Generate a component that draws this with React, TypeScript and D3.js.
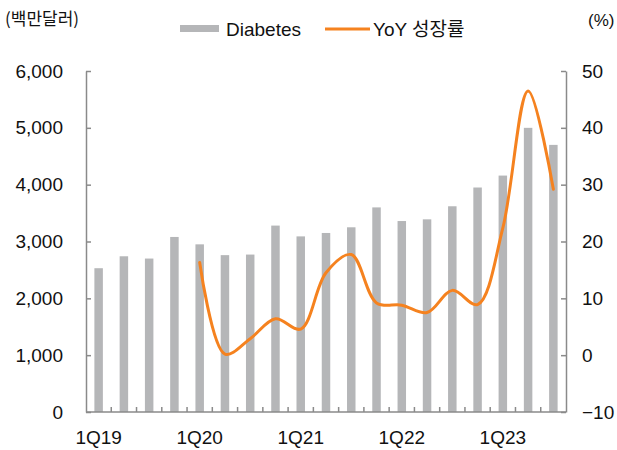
import React, { useRef, useEffect } from 'react';
import * as d3 from 'd3';

const quarters = [
  '1Q19', '2Q19', '3Q19', '4Q19',
  '1Q20', '2Q20', '3Q20', '4Q20',
  '1Q21', '2Q21', '3Q21', '4Q21',
  '1Q22', '2Q22', '3Q22', '4Q22',
  '1Q23', '2Q23', '3Q23',
];
const diabetes = [
  2530, 2740, 2700, 3080,
  2950, 2760, 2770, 3280,
  3090, 3150, 3250, 3600,
  3360, 3390, 3620, 3950,
  4160, 5000, 4700,
];
const yoyGrowth: (number | null)[] = [
  null, null, null, null,
  16.3, 0.2, 2.9, 6.4,
  4.6, 14.5, 17.7, 9.2,
  8.8, 7.5, 11.4, 8.9,
  22.4, 46.5, 29.2,
];
const leftTicks = [0, 1000, 2000, 3000, 4000, 5000, 6000];
const rightTicks = [-10, 0, 10, 20, 30, 40, 50];

const W = 617;
const H = 450;
const AXIS = '#8a8a8a';
const BAR = '#b5b6b8';
const ORANGE = '#f5821f';
const NUM_FONT = '"Liberation Sans", Arial, sans-serif';
const KR_FONT = '"Liberation Sans", "Noto Sans CJK KR", sans-serif';

const App = () => {
  const svgRef = useRef<SVGSVGElement | null>(null);

  useEffect(() => {
    if (!svgRef.current) return;
    const svg = d3.select(svgRef.current);
    svg.selectAll('*').remove();

    const left = 86;
    const right = 566;
    const top = 71;
    const bottom = 412;

    const x = d3.scaleBand<string>()
      .domain(quarters)
      .range([left, right])
      .paddingInner(0.664)
      .paddingOuter(0.332);
    const step = x.step();

    const yL = d3.scaleLinear().domain([0, 6000]).range([bottom, top]);
    const yR = d3.scaleLinear().domain([-10, 50]).range([bottom, top]);

    // bars
    svg.append('g')
      .selectAll('rect')
      .data(diabetes)
      .enter()
      .append('rect')
      .attr('x', (_d, i) => x(quarters[i]) as number)
      .attr('y', d => yL(d))
      .attr('width', x.bandwidth())
      .attr('height', d => bottom - yL(d))
      .attr('fill', BAR);

    // left axis
    const gl = svg.append('g')
      .attr('transform', `translate(${left},0)`)
      .call(
        d3.axisLeft(yL)
          .tickValues(leftTicks)
          .tickSizeInner(-5)
          .tickSizeOuter(0)
          .tickPadding(23)
          .tickFormat(d3.format(','))
      );

    // right axis
    const gr = svg.append('g')
      .attr('transform', `translate(${right},0)`)
      .call(
        d3.axisRight(yR)
          .tickValues(rightTicks)
          .tickSizeInner(-5)
          .tickSizeOuter(0)
          .tickPadding(16)
          .tickFormat(d => (+d < 0 ? '\u2212' + Math.abs(+d) : String(d)))
      );

    [gl, gr].forEach(g => {
      g.select('.domain').attr('stroke', AXIS).attr('stroke-width', 1.5);
      g.selectAll('.tick line').attr('stroke', AXIS).attr('stroke-width', 1.5);
      g.selectAll('.tick text')
        .attr('fill', '#111')
        .attr('font-size', 19)
        .attr('font-family', NUM_FONT);
    });

    // bottom axis
    const gb = svg.append('g');
    gb.append('line')
      .attr('x1', left).attr('x2', right)
      .attr('y1', bottom).attr('y2', bottom)
      .attr('stroke', AXIS).attr('stroke-width', 1.5);
    gb.selectAll('line.tk')
      .data(quarters.slice(1))
      .enter()
      .append('line')
      .attr('class', 'tk')
      .attr('x1', d => (x(d) as number) - (step - x.bandwidth()) / 2)
      .attr('x2', d => (x(d) as number) - (step - x.bandwidth()) / 2)
      .attr('y1', bottom)
      .attr('y2', bottom - 5)
      .attr('stroke', AXIS)
      .attr('stroke-width', 1.5);
    gb.selectAll('text')
      .data(quarters.filter(q => q.startsWith('1Q')))
      .enter()
      .append('text')
      .attr('x', d => (x(d) as number) + x.bandwidth() / 2)
      .attr('y', 444)
      .attr('text-anchor', 'middle')
      .attr('font-size', 19)
      .attr('font-family', NUM_FONT)
      .attr('fill', '#111')
      .text(d => d);

    // YoY line
    const line = d3.line<number | null>()
      .defined(d => d != null)
      .x((_d, i) => (x(quarters[i]) as number) + x.bandwidth() / 2)
      .y(d => yR(d as number))
      .curve(d3.curveCatmullRom.alpha(0.5));
    svg.append('path')
      .datum(yoyGrowth)
      .attr('d', line)
      .attr('fill', 'none')
      .attr('stroke', ORANGE)
      .attr('stroke-width', 3)
      .attr('stroke-linecap', 'round');

    // unit labels
    svg.append('text')
      .attr('x', 5).attr('y', 25)
      .attr('font-size', 17)
      .attr('font-family', '"Noto Sans CJK KR", sans-serif')
      .attr('fill', '#111')
      .text('(백만달러)');
    svg.append('text')
      .attr('x', 588).attr('y', 26)
      .attr('font-size', 17)
      .attr('font-family', NUM_FONT)
      .attr('fill', '#111')
      .text('(%)');

    // legend
    svg.append('rect')
      .attr('x', 180).attr('y', 25)
      .attr('width', 39).attr('height', 7)
      .attr('fill', BAR);
    svg.append('text')
      .attr('x', 226).attr('y', 36)
      .attr('font-size', 19)
      .attr('font-family', NUM_FONT)
      .attr('fill', '#111')
      .text('Diabetes');
    svg.append('line')
      .attr('x1', 325).attr('x2', 370)
      .attr('y1', 29).attr('y2', 29)
      .attr('stroke', ORANGE)
      .attr('stroke-width', 3);
    svg.append('text')
      .attr('x', 373).attr('y', 36)
      .attr('font-size', 19)
      .attr('font-family', KR_FONT)
      .attr('fill', '#111')
      .text('YoY 성장률');
  }, []);

  return (
    <div style={{ position: 'absolute', left: 0, top: 0, width: W, height: H, background: '#fff' }}>
      <svg ref={svgRef} width={W} height={H}></svg>
    </div>
  );
};

export default App;
